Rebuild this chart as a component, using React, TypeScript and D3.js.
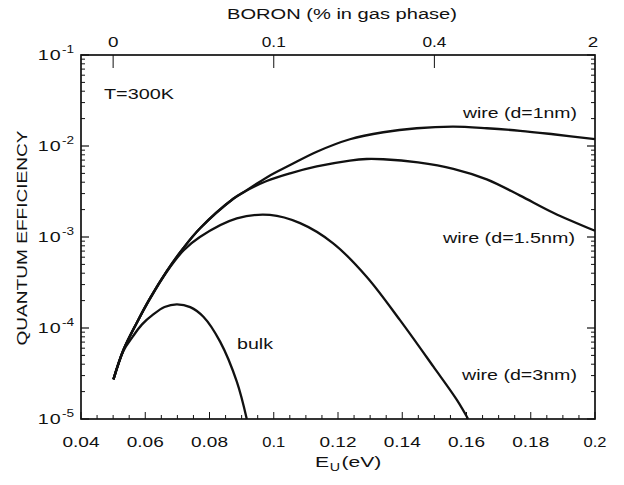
import React from "react";
import * as d3 from "d3";

// Quantum efficiency vs. energy E_U (eV), log scale
// Common rising branch shared by the two thinnest wires
const energyTrunk = [0.0501, 0.0532, 0.0573, 0.0615, 0.0667, 0.0719, 0.077, 0.0874, 0.0905];
const effTrunk = [2.73e-5, 5.73e-5, 1.13e-4, 2.13e-4, 4.22e-4, 7.59e-4, 1.24e-3, 2.63e-3, 3.09e-3];

const energyWire1 = [0.0978, 0.1051, 0.1134, 0.1237, 0.1341, 0.1445, 0.1559, 0.1663, 0.1767, 0.187, 0.2];
const effWire1 = [4.52e-3, 6.17e-3, 8.65e-3, 1.186e-2, 1.416e-2, 1.567e-2, 1.63e-2, 1.567e-2, 1.47e-2, 1.346e-2, 1.19e-2];

const energyWire15 = [0.0978, 0.1051, 0.1134, 0.1237, 0.1289, 0.1341, 0.1449, 0.1559, 0.1663, 0.1767, 0.187, 0.2];
const effWire15 = [4.12e-3, 5.01e-3, 5.96e-3, 6.92e-3, 7.2e-3, 7.15e-3, 6.6e-3, 5.62e-3, 4.3e-3, 2.85e-3, 1.85e-3, 1.17e-3];

const energyWire3 = [0.0501, 0.0532, 0.0573, 0.0615, 0.0667, 0.0719, 0.077, 0.0885, 0.0988, 0.1082, 0.1185, 0.1289, 0.1393, 0.1497, 0.157, 0.1605];
const effWire3 = [2.73e-5, 5.73e-5, 1.13e-4, 2.1e-4, 4.15e-4, 7.1e-4, 1.0e-3, 1.6e-3, 1.75e-3, 1.42e-3, 8.53e-4, 3.66e-4, 1.22e-4, 3.76e-5, 1.62e-5, 1.0e-5];

const energyBulk = [0.0501, 0.0532, 0.056, 0.059, 0.0625, 0.066, 0.0698, 0.074, 0.0781, 0.0833, 0.0885, 0.0916];
const effBulk = [2.73e-5, 5.6e-5, 7.94e-5, 1.096e-4, 1.41e-4, 1.7e-4, 1.82e-4, 1.698e-4, 1.33e-4, 7.08e-5, 2.57e-5, 1.0e-5];

const xTicks = [0.04, 0.06, 0.08, 0.1, 0.12, 0.14, 0.16, 0.18, 0.2];
const xTickLabels = ["0.04", "0.06", "0.08", "0.1", "0.12", "0.14", "0.16", "0.18", "0.2"];
const yExponents = [-1, -2, -3, -4, -5];

// Boron concentration (% in gas phase) at the corresponding E_U
const boronEnergy = [0.05, 0.1, 0.15, 0.2];
const boronLabels = ["0", "0.1", "0.4", "2"];

const FONT = "'Liberation Sans', Arial, Helvetica, sans-serif";
const INK = "#111";
const WIDE = 1.36; // horizontal stretch of the lettering

function pts(xs: number[], ys: number[]): [number, number][] {
  return xs.map((x, i) => [x, ys[i]]);
}

export default function App() {
  const left = 81, right = 595, top = 55, bottom = 419;
  const x = d3.scaleLinear().domain([0.04, 0.2]).range([left, right]);
  const y = d3.scaleLog().domain([1e-5, 1e-1]).range([bottom, top]);

  const line = d3
    .line<[number, number]>()
    .x((d) => x(d[0]))
    .y((d) => y(d[1]))
    .curve(d3.curveCatmullRom.alpha(0.5));

  const wire1 = pts(energyTrunk, effTrunk).concat(pts(energyWire1, effWire1));
  const wire15 = pts(energyTrunk, effTrunk).concat(pts(energyWire15, effWire15));
  const wire3 = pts(energyWire3, effWire3);
  const bulk = pts(energyBulk, effBulk);

  // minor x ticks every 0.005
  const xMinor = d3.range(0, 33).map((i) => 0.04 + i * 0.005);
  // log minor ticks
  const yMinor: number[] = [];
  for (let e = -5; e < -1; e++) {
    for (let m = 2; m <= 9; m++) yMinor.push(m * Math.pow(10, e));
  }

  const label = (
    key: string,
    tx: number,
    ty: number,
    s: string,
    len: number,
    anchor: "start" | "middle" | "end" = "start",
    size = 15
  ) => (
    <text
      key={key}
      x={tx}
      y={ty}
      textAnchor={anchor}
      fontSize={size}
      fill={INK}
      textLength={len}
      lengthAdjust="spacingAndGlyphs"
    >
      {s}
    </text>
  );

  return (
    <svg
      width={624}
      height={485}
      style={{ position: "absolute", left: 0, top: 0, background: "#fff" }}
      fontFamily={FONT}
    >
      <rect x={0} y={0} width={624} height={485} fill="#fff" />

      {/* bottom axis ticks */}
      {xMinor.map((v, i) => {
        const q = (v - 0.04) / 0.02;
        const major = Math.abs(q - Math.round(q)) < 1e-6;
        return (
          <line key={"xm" + i} x1={x(v)} x2={x(v)} y1={bottom} y2={bottom - (major ? 7 : 4)} stroke={INK} strokeWidth={1} />
        );
      })}
      {xTicks.map((v, i) =>
        label("xl" + i, x(v), 447, xTickLabels[i], xTickLabels[i].length === 4 ? 37 : 23, "middle", 14.5)
      )}

      {/* left & right log ticks */}
      {yMinor.map((v, i) => (
        <g key={"ym" + i}>
          <line x1={left} x2={left + 4} y1={y(v)} y2={y(v)} stroke={INK} strokeWidth={1} />
          <line x1={right} x2={right - 4} y1={y(v)} y2={y(v)} stroke={INK} strokeWidth={1} />
        </g>
      ))}
      {yExponents.map((e) => {
        const v = Math.pow(10, e);
        return (
          <g key={"yM" + e}>
            <line x1={left} x2={left + 8} y1={y(v)} y2={y(v)} stroke={INK} strokeWidth={1.2} />
            <line x1={right} x2={right - 8} y1={y(v)} y2={y(v)} stroke={INK} strokeWidth={1.2} />
            <g transform={`translate(74, ${y(v) + 5}) scale(${WIDE}, 1)`}>
              <text x={0} y={0} textAnchor="end" fontSize={14.5} fill={INK}>
                <tspan letterSpacing={0.8}>10</tspan>
                <tspan dy={-7} fontSize={10}>{String(e)}</tspan>
              </text>
            </g>
          </g>
        );
      })}

      {/* top boron axis */}
      {boronEnergy.map((v, i) => (
        <g key={"b" + i}>
          {i < boronEnergy.length - 1 && (
            <line x1={x(v)} x2={x(v)} y1={top} y2={top + 13} stroke={INK} strokeWidth={1} />
          )}
          {label(
            "bl" + i,
            x(v) - (i === boronEnergy.length - 1 ? 2 : 0),
            47,
            boronLabels[i],
            boronLabels[i].length > 1 ? 24 : 10.5,
            "middle",
            14.5
          )}
        </g>
      ))}

      {/* frame */}
      <rect x={left} y={top} width={right - left} height={bottom - top} fill="none" stroke={INK} strokeWidth={1.7} />

      {/* curves */}
      {[wire1, wire15, wire3, bulk].map((d, i) => (
        <path key={"c" + i} d={line(d) || ""} fill="none" stroke={INK} strokeWidth={2.3} strokeLinejoin="round" />
      ))}

      {/* annotations */}
      {label("t", 104, 99, "T=300K", 70)}
      {label("w1", 463, 118, "wire (d=1nm)", 114)}
      {label("w15", 443, 243, "wire (d=1.5nm)", 132)}
      {label("w3", 462, 380, "wire (d=3nm)", 115)}
      {label("bk", 237, 349, "bulk", 36)}

      {/* axis titles */}
      {label("boron", 227, 18.5, "BORON (% in gas phase)", 230, "start", 15.5)}
      <g transform={`translate(315, 467) scale(${WIDE}, 1)`}>
        <text x={0} y={0} fontSize={15.5} fill={INK}>
          <tspan>E</tspan>
          <tspan dy={4} dx={0.5} fontSize={10.5}>U</tspan>
          <tspan dy={-4} dx={1}>(eV)</tspan>
        </text>
      </g>
      <text
        transform={`translate(27, ${(top + bottom) / 2 + 1}) rotate(-90)`}
        textAnchor="middle"
        fontSize={15.5}
        fill={INK}
        textLength={215}
        lengthAdjust="spacingAndGlyphs"
      >
        QUANTUM EFFICIENCY
      </text>
    </svg>
  );
}
